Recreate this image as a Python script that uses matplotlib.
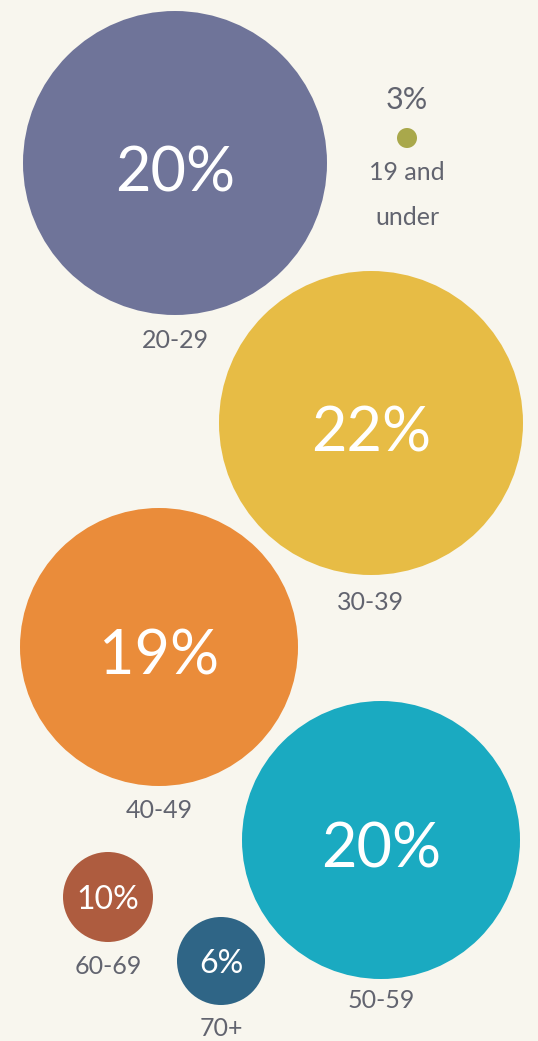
import matplotlib
matplotlib.use("Agg")
import matplotlib.pyplot as plt
from matplotlib.patches import Circle

# Data
categories = ["19 and\nunder", "20-29", "30-39", "40-49", "50-59", "60-69", "70+"]
shares = [3, 20, 22, 19, 20, 10, 6]

# Layout (pixel coordinates, y downward)
centers = [(407, 138), (175, 163), (371, 423), (159, 647), (381, 840), (108, 897), (221, 961)]
radii = [10, 152, 152, 139, 139, 45, 44]
colors = ["#A9A84B", "#6F7499", "#E7BC45", "#EA8C3A", "#1AAAC1", "#AE5C3F", "#2F6586"]
pct_size = [22, 44, 44, 44, 44, 23, 23]
cat_label_pos = [(407, 195), (175, 341), (371, 603), (159, 810), (381, 1000), (108, 966), (221, 1028)]

bg = "#F8F6EE"
W, H = 538, 1041
fig = plt.figure(figsize=(W / 100, H / 100), dpi=100, facecolor=bg)
ax = fig.add_axes([0, 0, 1, 1])
ax.set_xlim(0, W)
ax.set_ylim(H, 0)
ax.set_aspect("equal")
ax.axis("off")
ax.set_facecolor(bg)

font = ["Lato", "DejaVu Sans"]
gray = "#62646F"

for cat, val, (cx, cy), r, col, ps, (lx, ly) in zip(categories, shares, centers, radii, colors, pct_size, cat_label_pos):
    ax.add_patch(Circle((cx, cy), r, color=col, lw=0))
    if r > 30:
        ax.text(cx, cy + r * 0.07, f"{val}%", ha="center", va="center", color="white",
                fontsize=ps, family=font)
        ax.text(lx, ly, cat, ha="center", va="center", color=gray, fontsize=18, family=font)
    else:
        ax.text(cx, cy - 38, f"{val}%", ha="center", va="center", color=gray,
                fontsize=ps, family=font)
        ax.text(lx, ly, cat, ha="center", va="center", color=gray, fontsize=18, family=font,
                linespacing=2.15)

fig.savefig("out.png", dpi=100, facecolor=bg)
